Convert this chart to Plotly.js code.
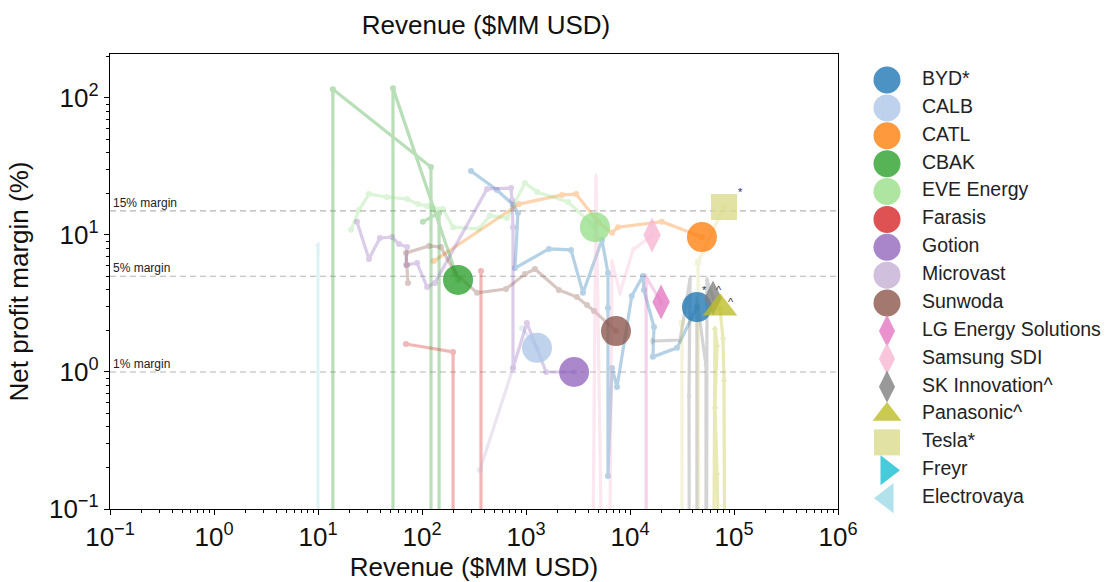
<!DOCTYPE html>
<html><head><meta charset="utf-8">
<script src="https://cdn.plot.ly/plotly-3.0.1.min.js"></script>
<style>html,body{margin:0;padding:0;background:#fff}#chart{width:1107px;height:582px}</style>
</head><body><div id="chart"></div>
<script>
// Company names, colours and marker symbols
const companies = ["BYD*","CALB","CATL","CBAK","EVE Energy","Farasis","Gotion","Microvast","Sunwoda","LG Energy Solutions","Samsung SDI","SK Innovation^","Panasonic^","Tesla*","Freyr","Electrovaya"];
const colors = ["#1f77b4","#aec7e8","#ff7f0e","#2ca02c","#98df8a","#d62728","#9467bd","#c5b0d5","#8c564b","#e377c2","#f7b6d2","#7f7f7f","#bcbd22","#dbdb8d","#17becf","#9edae5"];
const symbols = ["circle","circle","circle","circle","circle","circle","circle","circle","circle","diamond-tall","diamond-tall","diamond-tall","triangle-up","square","triangle-right","triangle-left"];

// Revenue ($MM USD) and net profit margin (%) histories; null = break in the line, negative = loss
const bydRevenue = [296, 526, 750, 837, 783, 1660, 2710, 3530, 5380, 6140, 6140, 6140, 6710, 7500, 10400, 13300, 13600, 17000, 16600, 28300, 44000];
const bydMargin  = [29.3, 21.3, 16.6, 14.5, 5.74, 7.91, 7.78, 3.78, 9.20, 5.28, 2.93, 0.174, 1.07, 0.778, 3.59, 5.02, 3.97, 2.13, 1.29, 1.50, 2.98];
const calbRevenue = [916, 1276];
const calbMargin  = [2.09, 1.50];
const catlRevenue = [130, 857, 2220, 3030, 4920, 6710, 7670, 20300, 49200];
const catlMargin  = [6.45, 16.8, 19.6, 19.9, 12.5, 10.4, 11.4, 12.5, 9.66];
const cbakRevenue = [13.9, 13.9, 122, 122, null, 102, 146, 146, null, 52.6, 52.6, 222];
const cbakMargin  = [-20, 116, 31.3, -20, null, 12.5, 14.5, -20, null, -20, 118, 4.70];
const eveRevenue = [20.8, 24.8, 30.9, 46.0, 71.8, 91.6, 112, 130, 159, 199, 353, 451, 656, 977, 1280, 2540, 4600];
const eveMargin  = [10.9, 15.2, 19.9, 18.9, 18.3, 16.8, 16.3, 15.7, 15.5, 11.4, 11.1, 13.8, 13.3, 24.0, 20.6, 17.4, 11.4];
const farasisRevenue = [369, 369, null, 70.2, 199, 199];
const farasisMargin  = [5.46, -10, null, 1.60, 1.40, -25];
const gotionRevenue = [23.7, 30.9, 39.4, 51.5, 60.1, 71.8, 70.2, 89.5, 112, 133, 422, 718, 733, 750, 750, 1020, 1560, 2900];
const gotionMargin  = [12.5, 6.68, 9.51, 9.66, 8.59, 8.16, 6.04, 6.25, 4.17, 4.47, 21.7, 22.0, 18.0, 11.4, 1.07, 2.28, 1.0, 1.0];
const microvastRevenue = [361, 750, null, 1020];
const microvastMargin  = [0.193, 1.07, null, -30];
const sunwodaRevenue = [73.3, 71.8, 70.2, 117, 152, 208, 338, 642, 977, 1220, 2070, 3090, 3860, 4510, 7330];
const sunwodaMargin  = [4.47, 6.04, 7.40, 8.32, 8.16, 5.28, 3.78, 4.03, 5.19, 5.65, 3.97, 3.52, 3.08, 2.79, 1.99];
const lgRevenue = [14300, 14300, 19900];
const lgMargin  = [-5, 4.93, 3.24];
const samsungRevenue = [4130, 4710, 6010, 6710, 8020, 10700, 16300];
const samsungMargin  = [-5, 26.5, -5, 6.35, 3.78, 7.78, 10.0];
const skRevenue = [16300, 30300, 37800, 36900, 37800, 44000, 44000, 53800, 53800, 55000, 62800];
const skMargin  = [1.68, 1.71, 4.77, 0.668, -5, -5, 3.36, 1.12, -5, 4.70, 3.47];
const panasonicRevenue = [61400, 65600, 68700, 65600, 68700, 70200, 83800, 80100, 78300, 73300];
const panasonicMargin  = [-5, 2.09, 1.57, 0.556, 0.183, -5, -5, 0.875, 1.77, 2.93];
const teslaRevenue = [31600, 31600, null, 47100, 45100, 80100];
const teslaMargin  = [-5, 2.28, null, -5, 6.35, 16.0];
const freyrRevenue = [];
const freyrMargin  = [];
const electrovayaRevenue = [10.0, 10.0];
const electrovayaMargin  = [8.45, -5];

// Reference margin levels
const marginLevels = [15, 5, 1];
const marginLabels = ["15% margin", "5% margin", "1% margin"];

// Axis ticks
const xTickVals = [0.1, 1, 10, 100, 1e3, 1e4, 1e5, 1e6];
const xTickText = ["10<sup>−1</sup>","10<sup>0</sup>","10<sup>1</sup>","10<sup>2</sup>","10<sup>3</sup>","10<sup>4</sup>","10<sup>5</sup>","10<sup>6</sup>"];
const yTickVals = [0.1, 1, 10, 100];
const yTickText = ["10<sup>−1</sup>","10<sup>0</sup>","10<sup>1</sup>","10<sup>2</sup>"];

const revenues = [bydRevenue, calbRevenue, catlRevenue, cbakRevenue, eveRevenue, farasisRevenue, gotionRevenue, microvastRevenue, sunwodaRevenue, lgRevenue, samsungRevenue, skRevenue, panasonicRevenue, teslaRevenue, freyrRevenue, electrovayaRevenue];
const margins = [bydMargin, calbMargin, catlMargin, cbakMargin, eveMargin, farasisMargin, gotionMargin, microvastMargin, sunwodaMargin, lgMargin, samsungMargin, skMargin, panasonicMargin, teslaMargin, freyrMargin, electrovayaMargin];

// like matplotlib's nonpositive='clip' on a log axis
const CLIP = 1e-4;
const clip = m => (m === null ? null : (m > 0 ? m : CLIP));

const FONT = "Liberation Sans, Arial, Helvetica, sans-serif";
const bigSize = {"circle": 30, "diamond-tall": 25, "triangle-up": 30, "square": 26, "triangle-right": 26, "triangle-left": 26};
const legSize = {"circle": 27, "diamond-tall": 23, "triangle-up": 25, "square": 26, "triangle-right": 26, "triangle-left": 26};

const traces = [];
// reference dashed lines
marginLevels.forEach(l => {
  traces.push({x: [xTickVals[0], xTickVals[xTickVals.length-1]], y: [l, l], mode: "lines", type: "scatter",
    line: {color: "#b5b5b5", width: 1.2, dash: "6px,4px"}, hoverinfo: "skip", showlegend: false});
});
// history lines
companies.forEach((c, i) => {
  traces.push({x: revenues[i], y: margins[i].map(clip), mode: "lines+markers", type: "scatter",
    line: {color: colors[i], width: 3.2}, marker: {color: colors[i], size: 6, symbol: symbols[i]},
    opacity: 0.33, connectgaps: false, showlegend: false, hoverinfo: "skip"});
});
// latest point, large marker
const annotations = [];
companies.forEach((c, i) => {
  const r = revenues[i], m = margins[i];
  if (!r.length) return;
  const lx = r[r.length-1], ly = m[m.length-1];
  if (lx === null || ly === null || ly <= 0) return;
  traces.push({x: [lx], y: [ly], mode: "markers", type: "scatter",
    marker: {color: colors[i], size: bigSize[symbols[i]], symbol: symbols[i], line: {width: 0}},
    opacity: 0.78, showlegend: false, hoverinfo: "skip"});
  const tag = c.endsWith("*") ? "*" : (c.endsWith("^") ? "^" : null);
  if (tag) {
    const shifts = {"BYD*": [8, 17], "SK Innovation^": [6, 8], "Panasonic^": [11, 6], "Tesla*": [17, 15]}[c];
    annotations.push({x: Math.log10(lx), y: Math.log10(ly), xref: "x", yref: "y", text: tag, showarrow: false,
      xshift: shifts[0], yshift: shifts[1], font: {family: FONT, size: 11, color: "#333"}});
  }
});
// custom legend
const legIdx = companies.map((c, i) => i);
traces.push({x: legIdx.map(() => 0), y: legIdx, xaxis: "x2", yaxis: "y2", mode: "markers", type: "scatter",
  marker: {color: colors, symbol: symbols, size: symbols.map(s => legSize[s]), opacity: 0.8, line: {width: 0}},
  showlegend: false, hoverinfo: "skip", cliponaxis: false});
traces.push({x: legIdx.map(() => 1), y: legIdx, xaxis: "x2", yaxis: "y2", mode: "text", type: "scatter",
  text: companies, textposition: "middle right", textfont: {family: FONT, size: 19.5, color: "#222"},
  showlegend: false, hoverinfo: "skip", cliponaxis: false});

marginLevels.forEach((l, k) => {
  annotations.push({x: Math.log10(xTickVals[0]), y: Math.log10(l), xref: "x", yref: "y", text: marginLabels[k],
    showarrow: false, xanchor: "left", yanchor: "bottom", xshift: 1, yshift: -1, font: {family: FONT, size: 12, color: "#222"}});
});

const W = 1107, ML = 110, MR = 10;
const PW = W - ML - MR;
const layout = {
  width: 1107, height: 582,
  margin: {l: ML, r: MR, t: 54, b: 73},
  paper_bgcolor: "#fff", plot_bgcolor: "#fff",
  font: {family: FONT, color: "#111"},
  title: {text: "Revenue ($MM USD)", font: {family: FONT, size: 26, color: "#111"}, xref: "container", yref: "container",
    x: 486 / W, y: 1 - 25 / 582, xanchor: "center", yanchor: "middle"},
  xaxis: {type: "log", range: [-1, 6], domain: [0, 728 / PW], tickvals: xTickVals, ticktext: xTickText,
    tickfont: {family: FONT, size: 26, color: "#111"}, ticks: "outside", ticklen: 5, tickwidth: 1, tickcolor: "#000",
    minor: {ticks: "outside", ticklen: 3, tickwidth: 1, tickcolor: "#000", dtick: "D1", showgrid: false},
    showline: true, linecolor: "#000", linewidth: 1.2, mirror: true, showgrid: false, zeroline: false,
    title: {text: "Revenue ($MM USD)", font: {family: FONT, size: 26, color: "#111"}, standoff: 6}},
  yaxis: {type: "log", range: [-1, 2.321], domain: [0, 1], tickvals: yTickVals, ticktext: yTickText,
    tickfont: {family: FONT, size: 26, color: "#111"}, ticks: "outside", ticklen: 5, tickwidth: 1, tickcolor: "#000",
    minor: {ticks: "outside", ticklen: 3, tickwidth: 1, tickcolor: "#000", dtick: "D1", showgrid: false},
    showline: true, linecolor: "#000", linewidth: 1.2, mirror: true, showgrid: false, zeroline: false,
    title: {text: "Net profit margin (%)", font: {family: FONT, size: 26, color: "#111"}, standoff: 12}},
  xaxis2: {domain: [(845 - ML) / PW, 1], range: [-1.2, 6.0], visible: false, fixedrange: true, anchor: "y2"},
  yaxis2: {domain: [0, 1], range: [15.39, -0.933], visible: false, fixedrange: true, anchor: "x2"},
  annotations: annotations,
  showlegend: false
};
Plotly.newPlot("chart", traces, layout, {displayModeBar: false, staticPlot: true});
</script></body></html>
